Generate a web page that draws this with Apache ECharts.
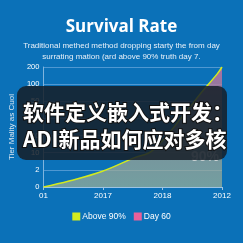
<!DOCTYPE html>
<html><head><meta charset="utf-8">
<script src="https://cdn.jsdelivr.net/npm/echarts@6/dist/echarts.min.js"></script>
<style>html,body{margin:0;padding:0;background:#0b71b8;}#c{width:243px;height:243px;}</style>
</head><body><div id="c"></div>
<script>
const xLabels = ['01', '2017', '2018', '2012'];
const yLabels = ['0', '2', '10', '10', '45', '50', '100', '200'];
const above90 = [[0, 0], [0.43, 0.35], [0.98, 0.9], [1.52, 1.7], [1.84, 2.15], [2.4, 4.4], [2.65, 5.5], [2.92, 6.6], [3, 7]];
const day60 = [[0, 0], [0.43, 0.35], [0.98, 0.9], [1.52, 1.7], [1.84, 2.15], [2.4, 4.4], [2.65, 5.5], [2.92, 6.6], [3, 7]];
const titleText = 'Survival Rate';
const subText = 'Traditional methed method dropping starty the from day\nsurrating mation (ard above 90% truth day 7.';
const yName = 'Tier Mality as Cuol';
const noteLines = ['New aboved', '90%'];
const bannerLines = ['软件定义嵌入式开发：', 'ADI新品如何应对多核'];

const chart = echarts.init(document.getElementById('c'), null, {renderer: 'canvas'});
chart.setOption({
  backgroundColor: '#0b71b8',
  animation: false,
  title: {
    text: titleText, subtext: subText, left: 'center', top: 14, itemGap: 4,
    textStyle: {color: '#fff', fontSize: 17, fontWeight: 'bold', fontFamily: 'Open Sans'},
    subtextStyle: {color: '#e8f0f8', fontSize: 8, lineHeight: 11, fontFamily: 'Liberation Sans', align: 'center'}
  },
  grid: {left: 35, right: 21, top: 67, bottom: 56},
  legend: {
    bottom: 17, left: 'center', itemWidth: 8, itemHeight: 8, itemGap: 8, icon: 'rect',
    textStyle: {color: '#fff', fontSize: 8.5, fontFamily: 'Liberation Sans', padding: [0, 0, 0, -3]},
    data: ['Above 90%', 'Day 60']
  },
  xAxis: {
    type: 'value', min: 0, max: 3, interval: 1,
    axisLine: {lineStyle: {color: '#9cc4e4'}},
    axisTick: {show: true, length: 3, lineStyle: {color: '#9cc4e4'}},
    splitLine: {show: false},
    axisLabel: {color: '#fff', fontSize: 8, margin: 5, fontFamily: 'Liberation Sans', formatter: v => xLabels[v]}
  },
  yAxis: {
    type: 'value', min: 0, max: 7, interval: 1,
    name: yName, nameLocation: 'middle', nameGap: 14, nameRotate: 90,
    nameTextStyle: {color: '#d8e6f2', fontSize: 8, fontFamily: 'Liberation Sans'},
    axisLine: {show: true, lineStyle: {color: '#7fb4de'}},
    axisTick: {show: false},
    splitLine: {lineStyle: {color: '#4f98d2', width: 1}},
    axisLabel: {color: '#fff', fontSize: 7.5, margin: 4, fontFamily: 'Liberation Sans', formatter: v => yLabels[v]}
  },
  series: [
    {
      name: 'Day 60', type: 'line', smooth: 0.4, data: day60, showSymbol: false, z: 1,
      itemStyle: {color: '#e8609a'}, lineStyle: {width: 0, opacity: 0},
      areaStyle: {opacity: 1, color: new echarts.graphic.LinearGradient(0, 0, 0, 1, [
        {offset: 0, color: 'rgba(200,110,160,0.85)'},
        {offset: 0.35, color: 'rgba(150,140,145,0.8)'},
        {offset: 1, color: 'rgba(160,178,150,0.7)'}])}
    },
    {
      name: 'Above 90%', type: 'line', smooth: 0.4, data: above90, showSymbol: false, z: 3,
      itemStyle: {color: '#d2ea1e'}, lineStyle: {width: 1.5, color: '#d2ea1e'}
    }
  ],
  graphic: [
    {type: 'text', z: 50, left: 175, top: 139, style: {text: noteLines[0], fill: 'rgba(220,220,220,0.55)', fontSize: 9, fontFamily: 'Liberation Sans'}},
    {type: 'text', z: 50, left: 191, top: 150, style: {text: noteLines[1], fill: 'rgba(225,225,225,0.75)', fontSize: 14, fontWeight: 'bold', fontFamily: 'Liberation Sans'}},
    {type: 'rect', z: 100, shape: {x: 17, y: 86, width: 210, height: 74, r: 9}, style: {fill: 'rgba(22,30,40,0.86)'}},
    {type: 'text', z: 101, left: 22, top: 101, style: {text: bannerLines[0], fill: '#fff', fontSize: 21, fontWeight: 'bold', fontFamily: 'Noto Sans CJK SC', stroke: '#111', lineWidth: 2}},
    {type: 'text', z: 101, left: 22, top: 128, style: {text: bannerLines[1], fill: '#fff', fontSize: 21, fontWeight: 'bold', fontFamily: 'Noto Sans CJK SC', stroke: '#111', lineWidth: 2}}
  ]
});
</script></body></html>
